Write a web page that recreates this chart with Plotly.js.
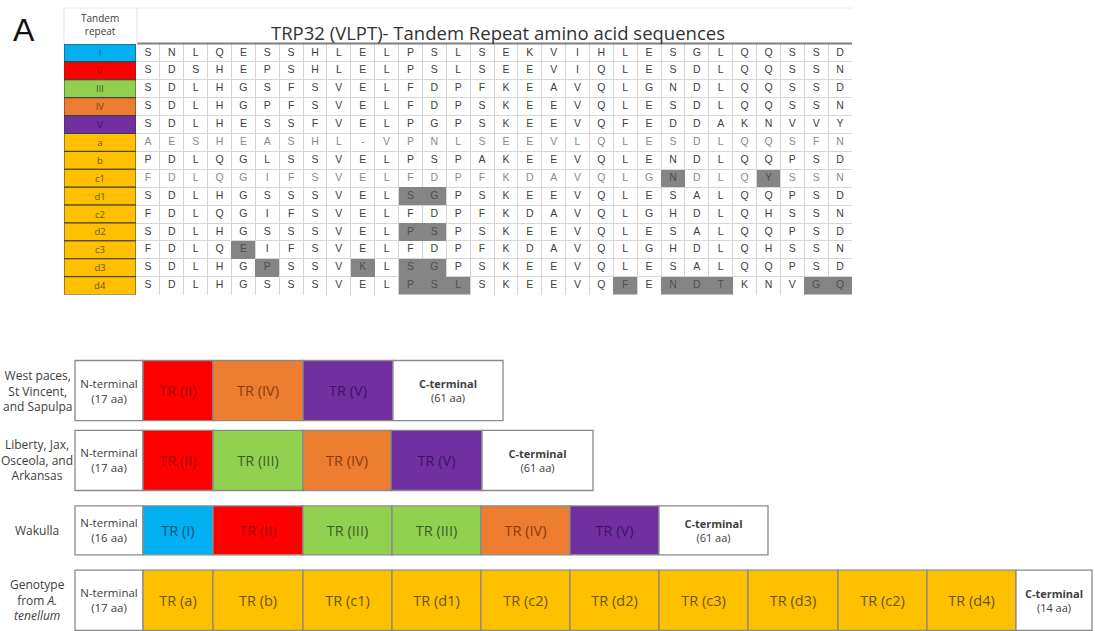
<!DOCTYPE html>
<html><head><meta charset="utf-8">
<script src="https://cdn.plot.ly/plotly-3.0.1.min.js"></script>
<style>html,body{margin:0;padding:0;background:#fff}</style>
</head><body><div id="chart" style="width:1095px;height:631px"></div>
<script>
// ---------- DATA ----------
const repeatNames = ['I','II','III','IV','V','a','b','c1','d1','c2','d2','c3','d3','d4'];
const sequences = [
 'SNLQESSHLELPSLSEKVIHLESGLQQSSD',
 'SDSHEPSHLELPSLSEEVIQLESDLQQSSN',
 'SDLHGSFSVELFDPFKEAVQLGNDLQQSSD',
 'SDLHGPFSVELFDPSKEEVQLESDLQQSSN',
 'SDLHESSFVELPGPSKEEVQFEDDAKNVVY',
 'AESHEASHL-VPNLSEEVLQLESDLQQSFN',
 'PDLQGLSSVELPSPAKEEVQLENDLQQPSD',
 'FDLQGIFSVELFDPFKDAVQLGNDLQYSSN',
 'SDLHGSSSVELSGPSKEEVQLESALQQPSD',
 'FDLQGIFSVELFDPFKDAVQLGHDLQHSSN',
 'SDLHGSSSVELPSPSKEEVQLESALQQPSD',
 'FDLQEIFSVELFDPFKDAVQLGHDLQHSSN',
 'SDLHGPSSVKLSGPSKEEVQLESALQQPSD',
 'SDLHGSSSVELPSLSKEEVQFENDTKNVGQ'
];
// highlighted (variant) positions, 1-based column numbers, per repeat
const highlightCols = [[],[],[],[],[],[],[],[23,27],[12,13],[],[12,13],[5],[6,10,12,13],[12,13,14,21,23,24,25,29,30]];
const fadedRepeats = ['a','c1'];

const genotypes = ['West paces, St Vincent, and Sapulpa','Liberty, Jax, Osceola, and Arkansas','Wakulla','Genotype from A. tenellum'];
const genotypeLabels = ['West paces,<br>St Vincent,<br>and Sapulpa','Liberty, Jax,<br>Osceola, and<br>Arkansas','Wakulla','Genotype<br>from <i>A.</i><br><i>tenellum</i>'];
const nTermAA = [17,17,16,17];
const cTermAA = [61,61,61,14];
const segmentNames = [
 ['N','II','IV','V','C'],
 ['N','II','III','IV','V','C'],
 ['N','I','II','III','III','IV','V','C'],
 ['N','a','b','c1','d1','c2','d2','c3','d3','c2','d4','C']
];
const segmentLengths = [
 [68,70,90,90,110],
 [68,70,90,88,91,111],
 [68,70,90,89,89,89,89,109],
 [68,70,90,89,89,89,89,89,90,89,89,76]
];

// ---------- STYLE ----------
const fillOf = {N:'#ffffff',C:'#ffffff',I:'#00b0f0',II:'#ff0000',III:'#92d050',IV:'#ed7d31',V:'#7030a0'};
const textOf = {N:'#404040',C:'#404040',I:'#1f4e79',II:'#a00000',III:'#3b5e22',IV:'#8a3c0c',V:'#3d1566'};
const goldFill = '#ffc000', goldText = '#6b5316';
const fill = k => fillOf[k] || goldFill;
const tcol = k => textOf[k] || goldText;
const barThickness = [0.86,0.86,0.70,0.86];
const FONT = 'Open Sans, Liberation Sans, sans-serif';

const traces = [];

// table highlight cells
const nR = repeatNames.length, nC = sequences[0].length;
const z = repeatNames.map((r,i)=>Array.from({length:nC},(_,j)=> highlightCols[i].includes(j+1)?1:null));
traces.push({type:'heatmap', x:Array.from({length:nC},(_,j)=>j+1), y:repeatNames.map((_,i)=>i), z:z,
  colorscale:[[0,'#858585'],[1,'#858585']], zmin:0, zmax:1, showscale:false, hoverinfo:'skip', xaxis:'x', yaxis:'y'});

// table letters
const lx=[], ly=[], lt=[], lc=[];
sequences.forEach((s,i)=>{ for(let j=0;j<s.length;j++){ lx.push(j+1); ly.push(i); lt.push(s[j]);
  lc.push(highlightCols[i].includes(j+1) ? '#505050' : (fadedRepeats.includes(repeatNames[i]) ? '#8a8a8a' : '#404040')); }});
traces.push({type:'scatter', mode:'text', x:lx, y:ly, text:lt, textposition:'middle center',
  textfont:{family:'Liberation Sans, sans-serif', size:10.5, color:lc}, hoverinfo:'skip', xaxis:'x', yaxis:'y'});

// repeat label column
traces.push({type:'bar', orientation:'h', y:repeatNames.map((_,i)=>i), x:repeatNames.map(()=>1), base:0, width:1,
  marker:{color:repeatNames.map(fill), line:{color:'#3a3a3a', width:1}},
  text:repeatNames, textposition:'inside', insidetextanchor:'middle', textangle:0, constraintext:'none',
  textfont:{family:FONT, size:9.5, color:repeatNames.map(tcol)}, hoverinfo:'skip', xaxis:'x3', yaxis:'y'});

// genotype bars
const by=[], bx=[], bb=[], bw=[], bc=[], bt=[], btc=[], bts=[];
segmentNames.forEach((segs,r)=>{ let acc=0; segs.forEach((k,i)=>{
  const len=segmentLengths[r][i];
  by.push(genotypes[r]); bx.push(len); bb.push(acc); bw.push(barThickness[r]); bc.push(fill(k)); btc.push(tcol(k));
  if(k==='N'){ bt.push('N-terminal<br>('+nTermAA[r]+' aa)'); bts.push(11.5); }
  else if(k==='C'){ bt.push('<b>C-terminal</b><br>('+cTermAA[r]+' aa)'); bts.push(11); }
  else { bt.push('TR ('+k+')'); bts.push(14.5); }
  acc+=len; }); });
traces.push({type:'bar', orientation:'h', y:by, x:bx, base:bb, width:bw,
  marker:{color:bc, line:{color:'#8a8a8a', width:1.3}},
  text:bt, textposition:'inside', insidetextanchor:'middle', textangle:0, constraintext:'none',
  textfont:{family:FONT, size:bts, color:btc}, hoverinfo:'skip', xaxis:'x2', yaxis:'y2'});

const H=631, W=1095;
const px = v=>v/W, py = v=>1-v/H;
const annotations = [
  {text:'A', xref:'paper', yref:'paper', x:px(24), y:py(30), showarrow:false, font:{family:'Liberation Sans, sans-serif', size:32, color:'#111'}, xanchor:'center', yanchor:'middle'},
  {text:'Tandem<br>repeat', xref:'paper', yref:'paper', x:px(100), y:py(25), showarrow:false, font:{family:FONT, size:10, color:'#404040'}, xanchor:'center', yanchor:'middle'},
  {text:'TRP32 (VLPT)- Tandem Repeat amino acid sequences', xref:'paper', yref:'paper', x:px(498), y:py(32), showarrow:false, font:{family:FONT, size:18.5, color:'#333333'}, xanchor:'center', yanchor:'middle'}
];
genotypes.forEach((g,i)=>annotations.push({text:genotypeLabels[i], xref:'paper', yref:'y2', x:px(37), y:g, showarrow:false,
  font:{family:FONT, size:12, color:'#404040'}, xanchor:'center', yanchor:'middle', align:'center'}));

const shapes = [
  {type:'line', xref:'paper', yref:'paper', x0:px(137), x1:px(852), y0:py(43.5), y1:py(43.5), line:{color:'#7f7f7f', width:2}},
  {type:'line', xref:'paper', yref:'paper', x0:px(64), x1:px(852), y0:py(8), y1:py(8), line:{color:'#ececec', width:1}},
  {type:'line', xref:'paper', yref:'paper', x0:px(64), x1:px(64), y0:py(8), y1:py(44), line:{color:'#e4e4e4', width:1}},
  {type:'line', xref:'paper', yref:'paper', x0:px(137), x1:px(137), y0:py(8), y1:py(44), line:{color:'#e4e4e4', width:1}}
];

const hidden = {showticklabels:false, ticks:'', zeroline:false, showline:false, fixedrange:true};
const layout = {
  width:W, height:H, margin:{l:0,r:0,t:0,b:0}, paper_bgcolor:'#fff', plot_bgcolor:'rgba(0,0,0,0)',
  showlegend:false, dragmode:false, bargap:0,
  xaxis: Object.assign({}, hidden, {domain:[px(136), px(852)], range:[0.5, nC+0.5], anchor:'y',
     tickmode:'array', tickvals:Array.from({length:nC+1},(_,j)=>j+0.5), showgrid:true, gridcolor:'#d6d6d6', gridwidth:1}),
  yaxis: Object.assign({}, hidden, {domain:[py(44+nR*17.9), py(44)], range:[nR-0.5, -0.5], anchor:'x',
     tickmode:'array', tickvals:Array.from({length:nR+1},(_,j)=>j-0.5), showgrid:true, gridcolor:'#d6d6d6', gridwidth:1}),
  xaxis3: Object.assign({}, hidden, {domain:[px(64), px(136)], range:[0,1], anchor:'y', showgrid:false}),
  xaxis2: Object.assign({}, hidden, {domain:[0,1], range:[-75, W-75], anchor:'y2', showgrid:false}),
  yaxis2: Object.assign({}, hidden, {domain:[0, py(350)], type:'category', categoryorder:'array', categoryarray:genotypes,
     range:[3.44, -0.58], anchor:'x2', showgrid:false}),
  annotations, shapes
};
Plotly.newPlot('chart', traces, layout, {staticPlot:true, displayModeBar:false});
</script></body></html>
